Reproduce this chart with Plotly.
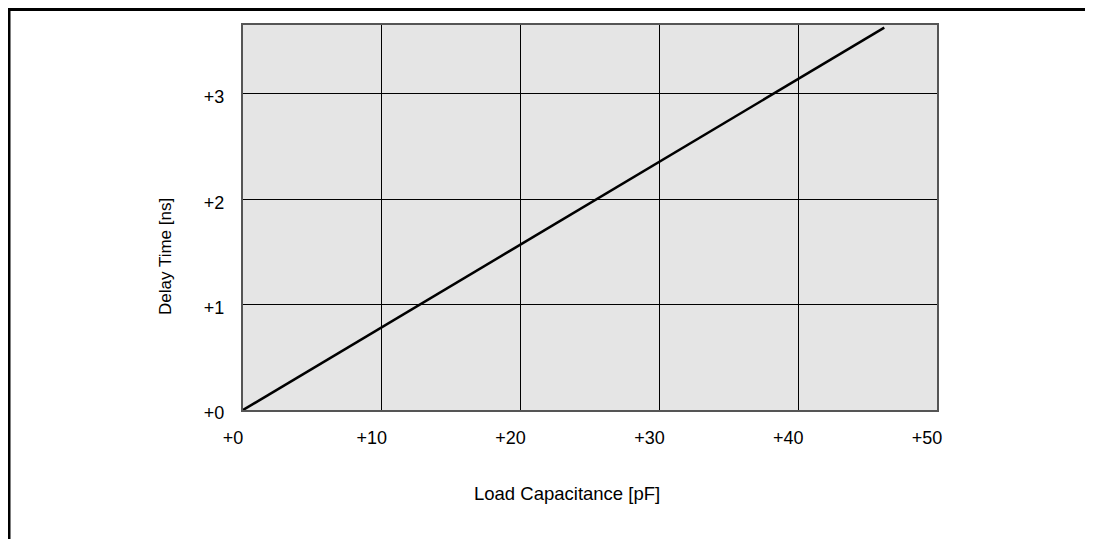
import plotly.graph_objects as go

# Delay time vs load capacitance
load_pf = [0, 46.2]
delay_ns = [0, 3.63]

x_ticks = [0, 10, 20, 30, 40, 50]
x_ticktext = ['+0', '+10', '+20', '+30', '+40', '+50']
y_ticks = [0, 1, 2, 3]
y_ticktext = ['+0', '+1', '+2', '+3']

FONT = 'Liberation Sans, Arial, sans-serif'

# page has an 8px body margin, so the figure is sized to fit the window
W, H = 1085, 531
ML, MR, MT, MB = 235, 156, 17, 129
PW, PH = W - ML - MR, H - MT - MB


def px_to_paper(px, py):
    # figure pixel -> paper coords
    return (px - ML) / PW, (H - MB - py) / PH


fig = go.Figure()

fig.add_trace(go.Scatter(
    x=load_pf, y=delay_ns,
    mode='lines',
    line=dict(color='#000000', width=2.5),
    showlegend=False,
    hoverinfo='skip'
))

fx0, fy1 = px_to_paper(1.0, 1.5)
fx1, fy0 = px_to_paper(W + 20, H + 20)
tx, ty = px_to_paper(559, 485)
yx, yy = px_to_paper(157, 249)

fig.update_layout(
    width=W, height=H,
    autosize=False,
    margin=dict(l=ML, r=MR, t=MT, b=MB, pad=0),
    paper_bgcolor='#ffffff',
    plot_bgcolor='#e5e5e5',
    font=dict(family=FONT, size=18, color='#000000'),
    xaxis=dict(
        range=[0, 50],
        tickvals=x_ticks, ticktext=x_ticktext,
        showgrid=True, gridcolor='#000000', gridwidth=1,
        zeroline=False,
        showline=True, mirror=True, linecolor='#555555', linewidth=2,
        ticks='', ticklabelstandoff=10, ticklabelshift=-10,
        fixedrange=True
    ),
    yaxis=dict(
        range=[0, 3.655],
        tickvals=y_ticks, ticktext=y_ticktext,
        showgrid=True, gridcolor='#000000', gridwidth=1,
        zeroline=False,
        showline=True, mirror=True, linecolor='#555555', linewidth=2,
        ticks='', ticklabelstandoff=13, ticklabelshift=3,
        fixedrange=True
    ),
    # outer frame (right / bottom edges fall outside the page)
    shapes=[dict(
        type='rect', xref='paper', yref='paper',
        x0=fx0, x1=fx1, y0=fy0, y1=fy1,
        line=dict(color='#000000', width=3),
        fillcolor='rgba(0,0,0,0)', layer='below'
    )],
    annotations=[
        dict(text='Load Capacitance [pF]', xref='paper', yref='paper',
             x=tx, y=ty, showarrow=False,
             xanchor='center', yanchor='middle', font=dict(size=18.5)),
        dict(text='Delay Time [ns]', xref='paper', yref='paper',
             x=yx, y=yy, showarrow=False, textangle=-90,
             xanchor='center', yanchor='middle', font=dict(size=17)),
    ]
)

fig.write_html("out.html")
